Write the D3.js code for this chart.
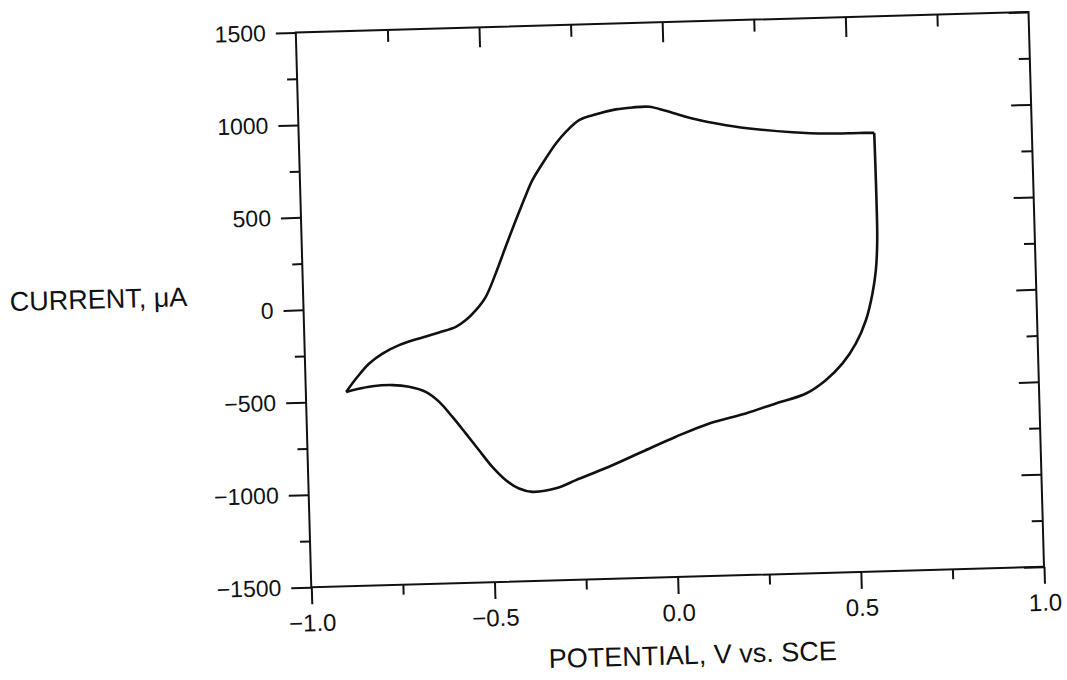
<!DOCTYPE html>
<html><head><meta charset="utf-8">
<script src="https://cdn.jsdelivr.net/npm/d3@7"></script>
<style>
body{margin:0;background:#fff}
text{font-family:"Liberation Sans",Arial,Helvetica,sans-serif;fill:#111}
</style>
</head><body>
<svg id="c" width="1067" height="680"></svg>
<script>
// Forward scan: from the negative vertex up to the positive switching point
const forwardPotential = [-0.890,-0.858,-0.825,-0.788,-0.742,-0.687,-0.632,-0.586,-0.558,-0.530,-0.502,-0.473,-0.444,-0.414,-0.385,-0.366,-0.337,-0.299,-0.271,-0.234,-0.197,-0.133,-0.088,-0.042,0.003,0.075,0.166,0.256,0.347,0.438,0.529,0.570];
const forwardCurrent   = [-450,-370,-300,-248,-205,-172,-143,-115,-80,-28,43,168,310,453,586,666,755,861,922,983,1008,1036,1044,1045,1021,975,934,906,886,874,872,870];
// Reverse scan: from the positive switching point back to the negative vertex
const reversePotential = [0.570,0.5705,0.571,0.570,0.564,0.553,0.533,0.504,0.466,0.419,0.364,0.281,0.198,0.098,0.006,-0.087,-0.179,-0.270,-0.320,-0.390,-0.426,-0.461,-0.497,-0.532,-0.567,-0.602,-0.637,-0.673,-0.718,-0.763,-0.818,-0.864,-0.890];
const reverseCurrent   = [870,740,506,290,128,3,-141,-265,-371,-459,-528,-577,-627,-675,-742,-818,-894,-961,-1000,-1018,-998,-951,-877,-785,-692,-601,-518,-462,-432,-420,-423,-438,-450];

const xMajor = [-1,-0.5,0,0.5,1];
const xMinor = [-0.75,-0.25,0.25,0.75];
const yMajor = [-1500,-1000,-500,0,500,1000,1500];
const yMinor = [-1250,-750,-250,250,750,1250];
const xTitle = "POTENTIAL, V vs. SCE";
const yTitle = "CURRENT, \u03BCA";

const W = 733, H = 555, cx = 669.9, cy = 299.6, angle = -1.6;
const x0 = cx - W/2, y0 = cy - H/2;
const svg = d3.select("#c");
const g = svg.append("g")
  .attr("transform", `rotate(${angle},${cx},${cy}) translate(${x0},${y0})`);

const x = d3.scaleLinear().domain([-1,1]).range([0,W]);
const y = d3.scaleLinear().domain([-1500,1500]).range([H,0]);

function style(sel, fs){
  sel.select(".domain").remove();
  sel.selectAll(".tick line").attr("stroke","#111").attr("stroke-width",2);
  sel.selectAll(".tick text").attr("font-size",fs).attr("fill","#111");
}
g.append("g").call(d3.axisLeft(y).tickValues(yMajor).tickSize(20).tickPadding(10).tickFormat(d3.format("d"))).call(s=>style(s,23));
g.append("g").call(d3.axisLeft(y).tickValues(yMinor).tickSize(10).tickFormat("")).call(s=>style(s,23));
g.append("g").attr("transform",`translate(0,${H})`).call(d3.axisBottom(x).tickValues(xMajor).tickSize(17).tickPadding(10).tickFormat(d3.format(".1f"))).call(s=>style(s,24));
g.append("g").attr("transform",`translate(0,${H})`).call(d3.axisBottom(x).tickValues(xMinor).tickSize(10).tickFormat("")).call(s=>style(s,24));
g.append("g").call(d3.axisTop(x).tickValues([-0.5,0,0.5]).tickSize(-20).tickFormat("")).call(s=>style(s,24));
g.append("g").call(d3.axisTop(x).tickValues(xMinor).tickSize(-12).tickFormat("")).call(s=>style(s,24));
g.append("g").attr("transform",`translate(${W},0)`).call(d3.axisRight(y).tickValues(yMajor).tickSize(-20).tickFormat("")).call(s=>style(s,23));
g.append("g").attr("transform",`translate(${W},0)`).call(d3.axisRight(y).tickValues(yMinor).tickSize(-11).tickFormat("")).call(s=>style(s,23));

g.append("rect").attr("x",0).attr("y",0).attr("width",W).attr("height",H)
  .attr("fill","none").attr("stroke","#111").attr("stroke-width",2);

const line = d3.line().x(d=>x(d[0])).y(d=>y(d[1])).curve(d3.curveCatmullRom.alpha(0.5));
const fwd = forwardPotential.map((p,i)=>[p,forwardCurrent[i]]);
const rev = reversePotential.map((p,i)=>[p,reverseCurrent[i]]);
[fwd, rev].forEach(d=>{
  g.append("path").attr("d",line(d)).attr("fill","none").attr("stroke","#111")
   .attr("stroke-width",2.6).attr("stroke-linejoin","miter");
});

svg.append("text").text(xTitle).attr("x",693).attr("y",664).attr("text-anchor","middle")
  .attr("font-size",27).attr("transform","rotate(-1.6,693,664)");
svg.append("text").text(yTitle).attr("x",10).attr("y",311)
  .attr("font-size",27).attr("transform","rotate(-1.6,10,311)");
</script>
</body></html>
